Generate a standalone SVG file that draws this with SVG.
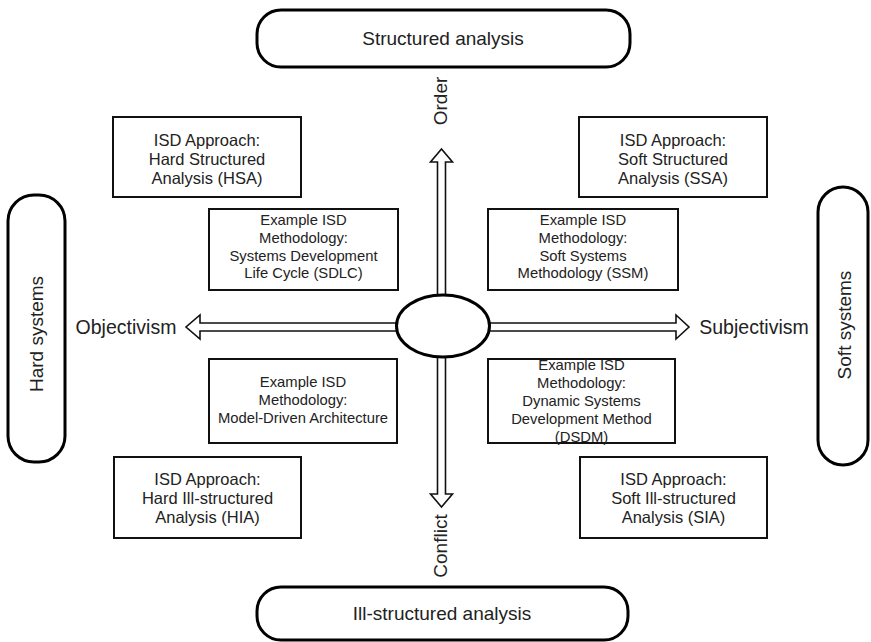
<svg xmlns="http://www.w3.org/2000/svg" width="871" height="642" viewBox="0 0 871 642">
  <style>
    .pill { fill: #fff; stroke: #000; stroke-width: 3; }
    .box { fill: #fff; stroke: #111; stroke-width: 2; }
    .arrow { fill: #fff; stroke: #111; stroke-width: 1.6; stroke-linejoin: miter; }
    text { font-family: "Liberation Sans", Arial, sans-serif; fill: #222; text-anchor: middle; }
    .big { font-size: 19px; }
    .axis { font-size: 19.5px; }
    .mid { font-size: 16.5px; }
    .small { font-size: 14.8px; }
  </style>

  <!-- axis arrows -->
  <g id="connectors">
    <path class="arrow" d="M437.5,300 V162 H430.5 L441.5,149 L452.5,162 H445.5 V300 Z"/>
    <path class="arrow" d="M437.5,350 V494 H430.5 L441.5,507 L452.5,494 H445.5 V350 Z"/>
    <path class="arrow" d="M400,323 H200 V315 L186,327 L200,339 V331 H400 Z"/>
    <path class="arrow" d="M480,323 H676 V315 L689,327 L676,339 V331 H480 Z"/>
  </g>

  <g id="centre">
    <ellipse cx="443" cy="326" rx="46.5" ry="31" fill="#fff" stroke="#000" stroke-width="3"/>
  </g>

  <!-- axis pole labels -->
  <g id="order"><text class="big" transform="translate(447,101) rotate(-90)">Order</text></g>
  <g id="conflict"><text class="big" transform="translate(447,546) rotate(-90)">Conflict</text></g>
  <g id="objectivism"><text class="axis" x="126" y="334">Objectivism</text></g>
  <g id="subjectivism"><text class="axis" x="754" y="334">Subjectivism</text></g>

  <!-- outer paradigms -->
  <g id="structured">
    <rect class="pill" x="257" y="10" width="373" height="57" rx="24"/>
    <text class="big" x="443" y="45">Structured analysis</text>
  </g>
  <g id="ill-structured">
    <rect class="pill" x="257" y="587" width="371" height="53" rx="24"/>
    <text class="big" x="442" y="620">Ill-structured analysis</text>
  </g>
  <g id="hard-systems">
    <rect class="pill" x="8" y="195" width="57" height="267" rx="26"/>
    <text class="big" transform="translate(43,334) rotate(-90)">Hard systems</text>
  </g>
  <g id="soft-systems">
    <rect class="pill" x="818" y="187" width="50" height="278" rx="25"/>
    <text class="big" transform="translate(851,325) rotate(-90)">Soft systems</text>
  </g>

  <!-- ISD approaches -->
  <g id="hsa">
    <rect class="box" x="113" y="117" width="188" height="80"/>
    <text class="mid" x="207" y="145.5">ISD Approach:</text>
    <text class="mid" x="207" y="164.5">Hard Structured</text>
    <text class="mid" x="207" y="184">Analysis (HSA)</text>
  </g>
  <g id="ssa">
    <rect class="box" x="579" y="117" width="188" height="80"/>
    <text class="mid" x="673" y="145.5">ISD Approach:</text>
    <text class="mid" x="673" y="164.5">Soft Structured</text>
    <text class="mid" x="673" y="184">Analysis (SSA)</text>
  </g>
  <g id="hia">
    <rect class="box" x="114" y="457" width="187" height="81"/>
    <text class="mid" x="207.5" y="485">ISD Approach:</text>
    <text class="mid" x="207.5" y="504">Hard Ill-structured</text>
    <text class="mid" x="207.5" y="523">Analysis (HIA)</text>
  </g>
  <g id="sia">
    <rect class="box" x="580" y="457" width="187" height="81"/>
    <text class="mid" x="673.5" y="485">ISD Approach:</text>
    <text class="mid" x="673.5" y="504">Soft Ill-structured</text>
    <text class="mid" x="673.5" y="523">Analysis (SIA)</text>
  </g>

  <!-- example methodologies -->
  <g id="sdlc">
    <rect class="box" x="209" y="209" width="189" height="81"/>
    <text class="small" x="303.5" y="225">Example ISD</text>
    <text class="small" x="303.5" y="243">Methodology:</text>
    <text class="small" x="303.5" y="260.5">Systems Development</text>
    <text class="small" x="303.5" y="278">Life Cycle (SDLC)</text>
  </g>
  <g id="ssm">
    <rect class="box" x="488" y="209" width="190" height="81"/>
    <text class="small" x="583" y="225">Example ISD</text>
    <text class="small" x="583" y="243">Methodology:</text>
    <text class="small" x="583" y="260.5">Soft Systems</text>
    <text class="small" x="583" y="278">Methodology (SSM)</text>
  </g>
  <g id="mda">
    <rect class="box" x="209" y="359" width="188" height="84"/>
    <text class="small" x="303" y="387">Example ISD</text>
    <text class="small" x="303" y="405">Methodology:</text>
    <text class="small" x="303" y="423">Model-Driven Architecture</text>
  </g>
  <g id="dsdm">
    <rect class="box" x="488" y="359" width="187" height="84"/>
    <text class="small" x="581.5" y="370">Example ISD</text>
    <text class="small" x="581.5" y="388">Methodology:</text>
    <text class="small" x="581.5" y="406">Dynamic Systems</text>
    <text class="small" x="581.5" y="424">Development Method</text>
    <text class="small" x="581.5" y="442">(DSDM)</text>
  </g>
</svg>
